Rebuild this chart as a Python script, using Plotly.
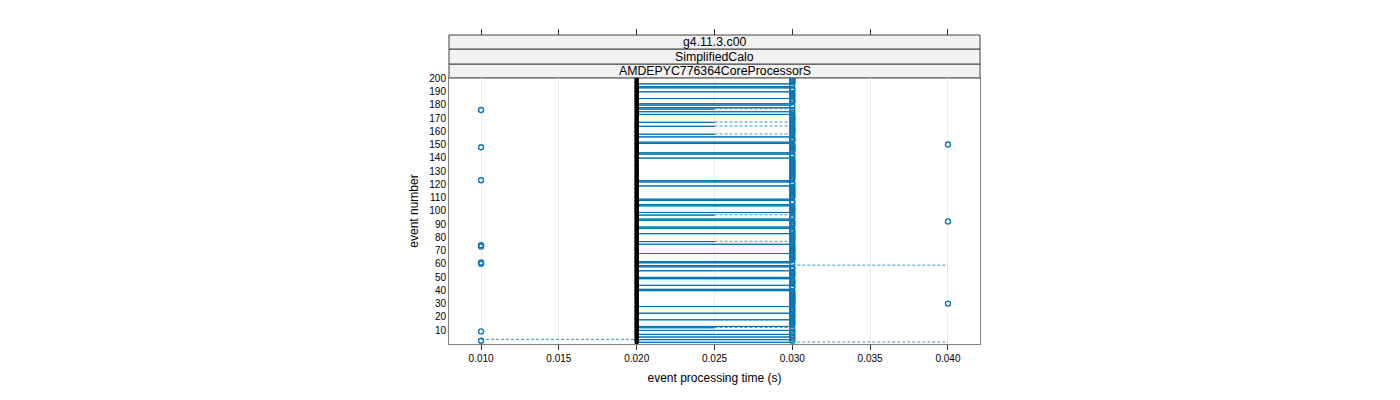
import plotly.graph_objects as go

# ---------------- data ----------------
strip_labels = ["g4.11.3.c00", "SimplifiedCalo", "AMDEPYC776364CoreProcessorS"]
x_tick_vals = [0.010, 0.015, 0.020, 0.025, 0.030, 0.035, 0.040]
x_tick_text = ["0.010", "0.015", "0.020", "0.025", "0.030", "0.035", "0.040"]
y_tick_vals = list(range(10, 201, 10))

event_numbers = list(range(1, 201))
typical_time = 0.020          # median time of every event
upper_time = 0.030            # second recorded time value

# events whose box spans 0.020 - 0.030
full_box_events = [1, 3, 5, 7, 10, 13, 18, 23, 28, 40, 41, 44, 49, 50, 55, 58, 59,
                   61, 62, 68, 75, 83, 87, 88, 93, 94, 99, 104, 105, 108, 109, 119,
                   122, 123, 140, 143, 144, 151, 152, 156, 173, 175, 178, 180, 181,
                   185, 190, 193, 194, 196]
# events whose box spans 0.020 - 0.025 (whisker up to 0.030)
half_box_events = [12, 77, 97, 158, 164, 167, 177]
half_box_q3 = 0.025
# whiskers reaching beyond the box
low_whisker_events = [3]
low_whisker_value = [0.010]
high_whisker_events = [1, 59]
high_whisker_value = [0.040, 0.040]
# outlying points
outlier_low_events = [2, 9, 60, 61, 73, 74, 123, 148, 176]
outlier_low_value = [0.010] * 9
outlier_high_events = [30, 92, 150]
outlier_high_value = [0.040] * 3

# ---------------- derived per-event statistics ----------------
q1 = {e: typical_time for e in event_numbers}
q3 = {e: typical_time for e in event_numbers}
wlo = {e: typical_time for e in event_numbers}
whi = {e: typical_time for e in event_numbers}
for e in full_box_events:
    q3[e] = upper_time
    whi[e] = upper_time
for e in half_box_events:
    q3[e] = half_box_q3
    whi[e] = upper_time
for e, v in zip(low_whisker_events, low_whisker_value):
    wlo[e] = v
for e, v in zip(high_whisker_events, high_whisker_value):
    whi[e] = v

out_x, out_y = [], []
for e in event_numbers:
    if q3[e] == typical_time:     # degenerate box: upper values plotted as outliers
        out_x.append(upper_time)
        out_y.append(e)
out_x += outlier_low_value + outlier_high_value
out_y += outlier_low_events + outlier_high_events

BOX_HALF = 0.25
box_x, box_y = [], []
wh_x, wh_y = [], []
for e in event_numbers:
    if q3[e] > q1[e]:
        box_x += [q1[e], q3[e], q3[e], q1[e], q1[e], None]
        box_y += [e - BOX_HALF, e - BOX_HALF, e + BOX_HALF, e + BOX_HALF, e - BOX_HALF, None]
    if whi[e] > q3[e]:
        wh_x += [q3[e], whi[e], None]
        wh_y += [e, e, None]
    if wlo[e] < q1[e]:
        wh_x += [wlo[e], q1[e], None]
        wh_y += [e, e, None]

BLUE = "#0072B2"
LIGHT_BLUE = "#3E93CC"
OUT_BLUE = "#0B76B8"

fig = go.Figure()
fig.add_trace(go.Scatter(x=wh_x, y=wh_y, mode="lines",
                         line=dict(color=LIGHT_BLUE, width=1, dash="3px,2px"),
                         hoverinfo="skip", showlegend=False))
fig.add_trace(go.Scatter(x=box_x, y=box_y, mode="lines",
                         line=dict(color=BLUE, width=1),
                         hoverinfo="skip", showlegend=False))
fig.add_trace(go.Scatter(x=out_x, y=out_y, mode="markers",
                         marker=dict(symbol="circle-open", size=5, color=OUT_BLUE,
                                     line=dict(width=1.4, color=OUT_BLUE)),
                         showlegend=False))
fig.add_trace(go.Scatter(x=[typical_time] * len(event_numbers), y=event_numbers,
                         mode="markers",
                         marker=dict(symbol="circle", size=4.5, color="black"),
                         showlegend=False))
# invisible trace for top tick axis
fig.add_trace(go.Scatter(x=[x_tick_vals[0]], y=[100], xaxis="x2", mode="markers",
                         marker=dict(opacity=0), hoverinfo="skip", showlegend=False))

XR = [0.00794, 0.04206]
PLOT_TOP = 266 / 309
fig.update_layout(
    width=1400, height=400,
    margin=dict(l=449, r=420, t=35, b=56),
    paper_bgcolor="white", plot_bgcolor="white",
    font=dict(family="Liberation Sans, Arial, sans-serif", color="black", size=12),
    xaxis=dict(range=XR, tickvals=x_tick_vals, ticktext=x_tick_text,
               tickfont=dict(size=10), ticks="outside", ticklen=5, tickcolor="#333",
               showline=True, linecolor="#808080", linewidth=1, mirror=True,
               showgrid=True, gridcolor="#ebebeb", zeroline=False,
               title=dict(text="event processing time (s)", font=dict(size=12), standoff=10)),
    xaxis2=dict(range=XR, tickvals=x_tick_vals, overlaying="x", side="top",
                anchor="free", position=1, showticklabels=False, ticks="outside",
                ticklen=6, tickcolor="#333", showgrid=False, showline=False, zeroline=False),
    yaxis=dict(range=[-0.5, 200.2], domain=[0, PLOT_TOP], tickvals=y_tick_vals,
               tickfont=dict(size=10), ticks="", showgrid=False, zeroline=False,
               showline=True, linecolor="#808080", linewidth=1, mirror=True,
               title=dict(text="event number", font=dict(size=12), standoff=8)),
)

strip_edges = [(344 - 78) / 309, (344 - 64) / 309, (344 - 49) / 309, 1.0]
for i, lab in enumerate(reversed(strip_labels)):
    y0, y1 = strip_edges[i], strip_edges[i + 1]
    fig.add_shape(type="rect", xref="paper", yref="paper", x0=0, x1=1, y0=y0, y1=y1,
                  fillcolor="#f2f2f2", line=dict(color="#404040", width=1), layer="below")
    fig.add_annotation(text=lab, xref="paper", yref="paper", x=0.5, y=(y0 + y1) / 2,
                       showarrow=False, font=dict(size=12.3, color="black"),
                       xanchor="center", yanchor="middle")

fig.write_html("out.html")
